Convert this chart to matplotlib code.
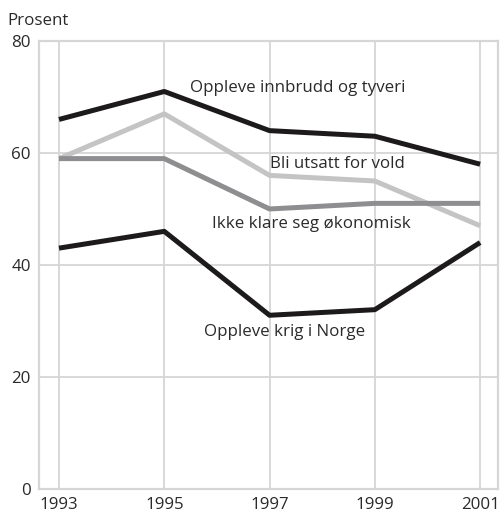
import matplotlib
matplotlib.use("Agg")
import matplotlib.pyplot as plt

years = [1993, 1995, 1997, 1999, 2001]
innbrudd = [66, 71, 64, 63, 58]
vold = [59, 67, 56, 55, 47]
okonomisk = [59, 59, 50, 51, 51]
krig = [43, 46, 31, 32, 44]

plt.rcParams["font.family"] = ["Open Sans", "DejaVu Sans"]
plt.rcParams["font.size"] = 12.2

fig = plt.figure(figsize=(5.0, 5.14), dpi=100)
ax = fig.add_axes([0.078, 0.0492, 0.918, 0.8708])

grid_c = "#d6d6d6"
lw = 3.6
ax.plot(years, okonomisk, color="#8e8e90", lw=lw, solid_capstyle="butt", zorder=3)
ax.plot(years, vold, color="#c4c4c4", lw=lw, solid_capstyle="butt", zorder=2)
ax.plot(years, innbrudd, color="#1c1a1a", lw=lw, solid_capstyle="butt", zorder=4)
ax.plot(years, krig, color="#1c1a1a", lw=lw, solid_capstyle="butt", zorder=4)

ax.set_xlim(1992.62, 2001.34)
ax.set_ylim(0, 80)
ax.set_xticks(years)
ax.set_yticks([0, 20, 40, 60, 80])
ax.tick_params(length=0, colors="#2a2a2a", labelsize=12.2)
ax.tick_params(axis="y", pad=6)
ax.tick_params(axis="x", pad=6)
ax.grid(True, color=grid_c, lw=1.3, zorder=0)
for s in ax.spines.values():
    s.set_color(grid_c)
    s.set_linewidth(1.6)

tc = "#2a2a2a"
ax.text(1995.48, 71.6, "Oppleve innbrudd og tyveri", color=tc, va="center", ha="left")
ax.text(1997.0, 58.0, "Bli utsatt for vold", color=tc, va="center", ha="left")
ax.text(1995.9, 47.4, "Ikke klare seg økonomisk", color=tc, va="center", ha="left")
ax.text(1995.75, 28.0, "Oppleve krig i Norge", color=tc, va="center", ha="left")

fig.text(0.014, 0.96, "Prosent", color=tc, va="center", ha="left")

fig.savefig("out.png", dpi=100)
